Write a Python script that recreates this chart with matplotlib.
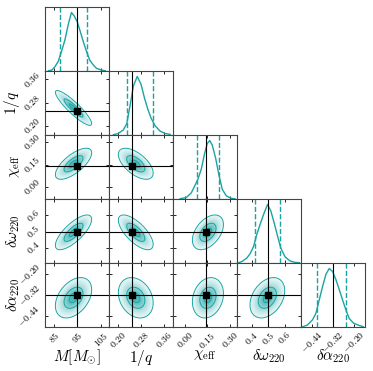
import numpy as np
import matplotlib
matplotlib.use("Agg")
import matplotlib.pyplot as plt
from matplotlib.colors import LinearSegmentedColormap

plt.rcParams["mathtext.fontset"] = "cm"
plt.rcParams["font.family"] = ["DejaVu Serif"]

# ---------------- data ----------------
labels = [r"$M[M_{\odot}]$", r"$1/q$", r"$\chi_{\rm eff}$",
          r"$\delta\omega_{220}$", r"$\delta\alpha_{220}$"]
ranges = [(81.0, 108.6), (0.17, 0.39), (-0.078, 0.349), (0.31, 0.70), (-0.50, -0.135)]
truths = [95.0, 0.25, 0.14, 0.50, -0.32]
ticks = [[85, 95, 105], [0.20, 0.28, 0.36], [0.00, 0.15, 0.30],
         [0.4, 0.5, 0.6], [-0.44, -0.32, -0.20]]
tick_labels = [["85", "95", "105"], ["0.20", "0.28", "0.36"], ["0.00", "0.15", "0.30"],
               ["0.4", "0.5", "0.6"], ["-0.44", "-0.32", "-0.20"]]
q_lo = [87.4, 0.233, 0.082, 0.42, -0.41]
q_hi = [98.9, 0.321, 0.229, 0.57, -0.244]

# 1D marginals (centres, relative heights)
h_M_x = [82.5, 83.9, 85.3, 86.7, 88.1, 89.6, 91.0, 92.4, 93.6, 94.9, 96.0, 97.5, 98.9, 100.3, 101.8, 103.2, 105.4, 107.0]
h_M_y = [0.0, 0.01, 0.07, 0.16, 0.33, 0.53, 0.79, 1.0, 0.94, 0.84, 0.70, 0.50, 0.33, 0.18, 0.10, 0.04, 0.01, 0.0]
h_q_x = [0.185, 0.201, 0.219, 0.231, 0.242, 0.254, 0.267, 0.280, 0.292, 0.304, 0.315, 0.329, 0.346, 0.364, 0.380]
h_q_y = [0.0, 0.02, 0.08, 0.19, 0.49, 0.84, 1.0, 0.87, 0.63, 0.43, 0.28, 0.15, 0.06, 0.02, 0.006]
h_c_x = [-0.03, 0.011, 0.044, 0.067, 0.089, 0.111, 0.133, 0.151, 0.167, 0.184, 0.207, 0.229, 0.251, 0.277, 0.311, 0.335]
h_c_y = [0.0, 0.02, 0.10, 0.22, 0.34, 0.51, 0.78, 0.95, 1.0, 0.92, 0.69, 0.40, 0.16, 0.05, 0.006, 0.0]
h_w_x = [0.32, 0.340, 0.370, 0.391, 0.411, 0.431, 0.451, 0.472, 0.496, 0.516, 0.536, 0.557, 0.577, 0.603, 0.633, 0.663, 0.69]
h_w_y = [0.0, 0.02, 0.08, 0.16, 0.28, 0.49, 0.66, 0.83, 1.0, 0.89, 0.69, 0.46, 0.25, 0.10, 0.03, 0.006, 0.0]
h_a_x = [-0.49, -0.463, -0.434, -0.415, -0.396, -0.377, -0.358, -0.339, -0.320, -0.301, -0.282, -0.263, -0.244, -0.225, -0.200, -0.167, -0.145]
h_a_y = [0.0, 0.03, 0.12, 0.23, 0.46, 0.69, 0.90, 1.0, 0.95, 0.81, 0.64, 0.46, 0.29, 0.14, 0.06, 0.02, 0.0]
hists = [(h_M_x, h_M_y), (h_q_x, h_q_y), (h_c_x, h_c_y), (h_w_x, h_w_y), (h_a_x, h_a_y)]

# 2D posterior shape (centre, width, correlation)
means = [93.3, 0.262, 0.155, 0.495, -0.335]
sigmas = [3.4, 0.026, 0.045, 0.046, 0.050]
corr = {(1, 0): -0.90, (2, 0): 0.70, (2, 1): -0.60, (3, 0): 0.75, (3, 1): -0.70,
        (3, 2): 0.45, (4, 0): 0.40, (4, 1): -0.25, (4, 2): 0.20, (4, 3): 0.35}
s_levels = [2.3, 1.2, 0.55]

color = "#1aa3a3"
n = 5

# ---------------- figure ----------------
fig = plt.figure(figsize=(3.73, 3.71), dpi=100)
W, H = 373.0, 371.0
x0, y0, cell = 45.0, 6.7, 64.0

shade_cmap = LinearSegmentedColormap.from_list("shade", ["white", color])


def mt(s):
    return "$" + s + "$"


for i in range(n):
    for j in range(i + 1):
        left = (x0 + j * cell) / W
        bottom = 1 - (y0 + (i + 1) * cell) / H
        ax = fig.add_axes([left, bottom, cell / W, cell / H])
        ax.set_xlim(ranges[j])
        ax.tick_params(direction="in", length=2.5, width=0.6, top=True, right=True,
                       labelsize=7, pad=2)
        for sp in ax.spines.values():
            sp.set_linewidth(0.8)
            sp.set_color("#444444")
        if i == j:
            xs = np.asarray(hists[i][0]); ys = np.asarray(hists[i][1])
            ax.plot(xs, ys, color=color, lw=1.0)
            ax.set_ylim(0, 1.1 * max(ys))
            ax.axvline(truths[i], color="k", lw=0.8)
            ax.axvline(q_lo[i], color=color, ls="--", lw=1.0)
            ax.axvline(q_hi[i], color=color, ls="--", lw=1.0)
            ax.set_yticks([])
            ax.tick_params(right=False, left=False)
        else:
            ax.set_ylim(ranges[i])
            gx = np.linspace(ranges[j][0], ranges[j][1], 160)
            gy = np.linspace(ranges[i][0], ranges[i][1], 160)
            X, Y = np.meshgrid(gx, gy)
            u = (X - means[j]) / sigmas[j]
            v = (Y - means[i]) / sigmas[i]
            r = corr[(i, j)]
            Z = np.exp(-(u * u - 2 * r * u * v + v * v) / (2 * (1 - r * r)))
            lv = np.exp(-0.5 * np.array(s_levels) ** 2)
            ax.pcolormesh(X, Y, 0.8 * Z ** 0.8, cmap=shade_cmap, shading="auto",
                          rasterized=True, vmin=0, vmax=1.0)
            ax.contourf(X, Y, Z, [Z.min() - 1, lv[0]], colors=["white"], antialiased=False)
            ax.contour(X, Y, Z, lv, colors=color, linewidths=0.7)
            ax.axvline(truths[j], color="k", lw=0.8)
            ax.axhline(truths[i], color="k", lw=0.8)
            ax.plot(truths[j], truths[i], "s", color="k", ms=4)
            ax.set_yticks(ticks[i])
            if j == 0:
                ax.set_yticklabels([mt(t) for t in tick_labels[i]], rotation=45, va="center")
                ax.set_ylabel(labels[i], fontsize=11)
                ax.yaxis.set_label_coords(-0.36, 0.5)
            else:
                ax.set_yticklabels([])
        ax.set_xticks(ticks[j])
        if i == n - 1:
            ax.set_xticklabels([mt(t) for t in tick_labels[j]], rotation=45, ha="center")
            ax.set_xlabel(labels[j], fontsize=11)
            ax.xaxis.set_label_coords(0.5, -0.33)
        else:
            ax.set_xticklabels([])

fig.savefig("out.png", dpi=100)
